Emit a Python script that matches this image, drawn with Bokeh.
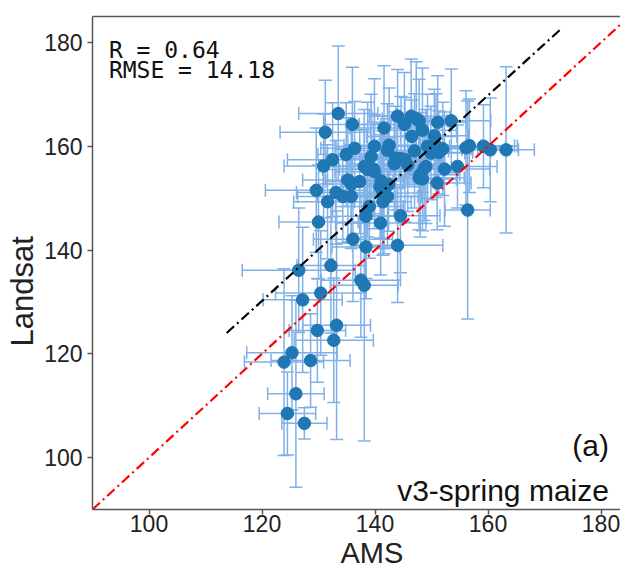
from bokeh.plotting import figure
from bokeh.models import ColumnDataSource, Whisker, TeeHead, Label, FixedTicker, LinearAxis, Title
from bokeh.embed import file_html
from bokeh.resources import INLINE

# AMS (x) and Landsat (y) values with their error half-widths
ams = [133.5, 136.0, 131.2, 141.6, 144.0, 146.4, 147.8, 145.2, 148.4, 151.1,
       153.5, 146.5, 150.5, 139.9, 142.5, 136.4, 134.9, 139.3, 142.2, 147.0,
       149.3, 151.3, 152.0, 156.1, 156.7, 159.2, 160.4, 163.2, 132.5, 130.9,
       138.1, 139.7, 143.4, 144.6, 145.8, 148.7, 152.3, 154.6, 135.2, 137.3,
       141.1, 142.4, 147.8, 151.0, 135.8, 129.6, 133.1, 131.6, 134.3, 135.8,
       140.9, 141.6, 141.4, 139.0, 130.0, 138.4, 141.0, 144.5, 156.4, 136.1,
       138.4, 144.0, 132.2, 137.5, 138.1, 126.5, 127.2, 130.4, 133.2, 129.8,
       132.7, 125.3, 123.9, 128.6, 126.0, 124.5, 127.5,
       147.3, 143.7, 145.3, 149.9, 150.8, 149.0, 148.0, 148.4, 138.7, 139.9,
       142.2, 141.4]
landsat = [166.3, 164.2, 162.7, 163.5, 165.8, 165.8, 164.9, 164.2, 163.1, 164.6,
           164.9, 161.9, 162.0, 160.0, 160.2, 159.6, 158.4, 158.0, 159.2, 159.1,
           160.0, 158.8, 159.5, 159.7, 160.1, 160.0, 159.3, 159.3, 157.4, 156.2,
           156.1, 155.6, 156.6, 157.6, 156.4, 155.7, 155.6, 156.1, 153.5, 153.2,
           153.3, 152.6, 153.9, 152.9, 152.7, 151.5, 151.1, 149.3, 150.3, 150.3,
           152.2, 150.3, 149.3, 148.4, 145.4, 146.5, 145.2, 146.6, 147.7, 142.1,
           140.6, 140.9, 137.0, 134.2, 133.2, 136.1, 130.4, 131.7, 125.5, 124.5,
           122.6, 120.2, 118.4, 118.7, 112.3, 108.5, 106.6,
           165.3, 157.7, 157.4, 158.7, 160.1, 156.1, 154.5, 153.7, 155.5, 155.1,
           150.3, 151.0]
ams_err = [7, 5, 8, 6, 5, 7, 5, 8, 6, 5,
           7, 8, 6, 7, 8, 6, 5, 8, 7, 6,
           8, 6, 5, 7, 8, 6, 5, 5, 8, 7,
           8, 6, 8, 7, 5, 6, 8, 7, 8, 6,
           7, 6, 8, 6, 5, 9, 7, 6, 8, 6,
           7, 6, 5, 6, 7, 6, 8, 7, 4, 7,
           6, 8, 6, 7, 6, 10, 7, 8, 6, 5,
           7, 8, 7, 7, 5, 5, 4,
           6, 8, 7, 6, 8, 6, 7, 6, 8, 7,
           6, 7]
landsat_err = [13, 11, 10, 12, 9, 11, 8, 10, 12, 9,
               10, 7, 9, 13, 11, 9, 10, 12, 9, 11,
               10, 8, 9, 11, 9, 8, 10, 16, 11, 10,
               11, 9, 10, 12, 9, 10, 11, 8, 12, 10,
               11, 9, 10, 9, 11, 12, 10, 11, 9, 10,
               10, 11, 9, 10, 11, 12, 10, 11, 21, 12,
               10, 11, 13, 11, 30, 12, 14, 12, 22, 10,
               12, 11, 18, 9, 18, 8, 3,
               11, 10, 12, 9, 10, 11, 12, 10, 13, 11,
               10, 12]

# statistics and regression fit
r_value = 0.64
rmse_value = 14.18
fit_slope = 0.99
fit_intercept = 11.4
fit_x_range = [113.75, 173.2]
axis_limits = [90, 185]
x_view_max = 183.45
tick_values = [100, 120, 140, 160, 180]

src = ColumnDataSource(dict(
    x=ams, y=landsat,
    xl=[a - e for a, e in zip(ams, ams_err)],
    xu=[a + e for a, e in zip(ams, ams_err)],
    yl=[b - e for b, e in zip(landsat, landsat_err)],
    yu=[b + e for b, e in zip(landsat, landsat_err)],
))

p = figure(width=620, height=571, x_range=(axis_limits[0], x_view_max), y_range=tuple(axis_limits),
           output_backend="svg", toolbar_location=None,
           min_border_left=92, min_border_right=0, min_border_top=16, min_border_bottom=62)
p.grid.visible = False
p.outline_line_color = None

ebar = "#7fb0e8"
for dim, base, lo, hi in [("height", "x", "yl", "yu"), ("width", "y", "xl", "xu")]:
    w = Whisker(source=src, base=base, lower=lo, upper=hi, dimension=dim,
                line_color=ebar, line_width=1.5,
                lower_head=TeeHead(size=13, line_color=ebar, line_width=1.5),
                upper_head=TeeHead(size=13, line_color=ebar, line_width=1.5))
    p.add_layout(w)

p.scatter("x", "y", source=src, size=12.5, fill_color="#1f77b4", line_color="#1f77b4")

# 1:1 line
p.line(axis_limits, axis_limits, line_color="red", line_width=2.2, line_dash="10 4 2 4")
# fit line
p.line(fit_x_range, [fit_slope * v + fit_intercept for v in fit_x_range],
       line_color="black", line_width=2.2, line_dash="10 4 2 4")

bottom_ax = p.below[0]
left_ax = p.left[0]
for ax in (bottom_ax, left_ax):
    ax.ticker = FixedTicker(ticks=tick_values)
    ax.minor_tick_line_color = None
    ax.major_tick_in = 0
    ax.major_tick_out = 5
    ax.axis_line_color = "#555555"
    ax.axis_line_width = 1.5
    ax.major_tick_line_color = "#555555"
    ax.major_tick_line_width = 1.5
    ax.major_label_text_font = "Liberation Sans"
    ax.major_label_text_font_size = "23px"
    ax.major_label_text_color = "#222222"
bottom_ax.major_label_standoff = 0
left_ax.major_label_standoff = 5

top = LinearAxis(ticker=FixedTicker(ticks=[]), major_label_text_font_size="0px",
                 major_tick_out=0, major_tick_in=0, minor_tick_line_color=None,
                 axis_line_color="#555555", axis_line_width=1.5)
p.add_layout(top, "above")

# axis titles
p.add_layout(Title(text="AMS", text_font="Liberation Sans", text_font_size="29px",
                   text_font_style="normal", text_color="#222222", align="left",
                   offset=248, standoff=0), "below")
p.add_layout(Title(text="Landsat", text_font="Liberation Sans", text_font_size="31px",
                   text_font_style="normal", text_color="#222222", align="left",
                   offset=163, standoff=4), "left")

p.add_layout(Label(x=92.9, y=181.0, text=f"R = {r_value:.2f}", text_font="DejaVu Sans Mono",
                   text_font_size="23px", text_baseline="top", text_color="#111111"))
p.add_layout(Label(x=92.9, y=177.1, text=f"RMSE = {rmse_value:.2f}", text_font="DejaVu Sans Mono",
                   text_font_size="23px", text_baseline="top", text_color="#111111"))
p.add_layout(Label(x=181.4, y=102.3, text="(a)", text_font="Liberation Sans",
                   text_font_size="30px", text_align="right", text_baseline="alphabetic",
                   text_color="#111111"))
p.add_layout(Label(x=181.4, y=93.6, text="v3-spring maize", text_font="Liberation Sans",
                   text_font_size="30px", text_align="right", text_baseline="alphabetic",
                   text_color="#111111"))

open("out.html", "w").write(file_html(p, INLINE))
